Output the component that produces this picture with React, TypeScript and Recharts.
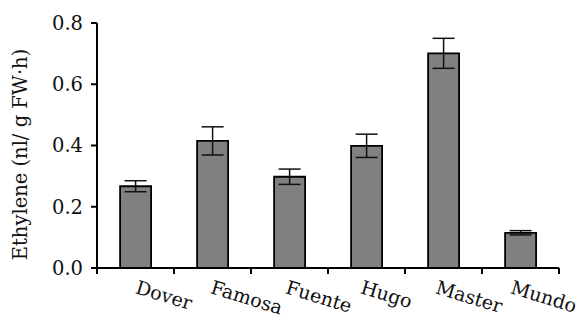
import { BarChart, Bar, XAxis, YAxis, ErrorBar, Label } from "recharts";

const cultivars = ["Dover", "Famosa", "Fuente", "Hugo", "Master", "Mundo"];
const ethylene = [0.267, 0.415, 0.298, 0.399, 0.701, 0.115];
const stdErr = [0.018, 0.046, 0.025, 0.038, 0.049, 0.007];
const yTicks = [0, 0.2, 0.4, 0.6, 0.8];

const data = cultivars.map((name, i) => ({
  name,
  value: ethylene[i],
  err: stdErr[i],
}));

const FONT = "'DejaVu Serif', serif";
const TICK_SIZE = 6;
const TICK_MARGIN = 4;

// category axis: ticks sit on band edges, labels slant down to the right
function SlantTick(props: any) {
  const { x, y, payload, index } = props;
  const half = payload?.offset ?? 38.5;
  const axisY = y - TICK_SIZE - TICK_MARGIN;
  const last = index === cultivars.length - 1;
  const tx = x - 1 - index * 2;
  const ty = y + 15;
  return (
    <g>
      <line x1={x - half} x2={x - half} y1={axisY} y2={axisY + TICK_SIZE} stroke="#000" strokeWidth={2} />
      {last && (
        <line x1={x + half} x2={x + half} y1={axisY} y2={axisY + TICK_SIZE} stroke="#000" strokeWidth={2} />
      )}
      <text
        x={tx}
        y={ty}
        textAnchor="start"
        fontFamily={FONT}
        fontSize={19}
        fill="#111"
        transform={`rotate(17, ${tx}, ${ty})`}
      >
        {payload.value}
      </text>
    </g>
  );
}

export default function App() {
  return (
    <div style={{ position: "absolute", left: 0, top: 0, background: "#fff" }}>
      <BarChart
        width={582}
        height={320}
        data={data}
        margin={{ top: 23, right: 23, bottom: 0, left: 0 }}
        barCategoryGap="30%"
      >
        <XAxis
          dataKey="name"
          interval={0}
          height={52}
          tickSize={TICK_SIZE}
          tickMargin={TICK_MARGIN}
          tickLine={false}
          axisLine={{ stroke: "#000", strokeWidth: 2 }}
          tick={<SlantTick />}
        />
        <YAxis
          width={97}
          domain={[0, 0.8]}
          ticks={yTicks}
          tickFormatter={(v: number) => v.toFixed(1)}
          tickSize={6}
          tickMargin={8}
          tickLine={{ stroke: "#000", strokeWidth: 2 }}
          axisLine={{ stroke: "#000", strokeWidth: 2 }}
          tick={{ fill: "#111", fontSize: 19.5, fontFamily: FONT }}
        >
          <Label
            content={({ viewBox }: any) => {
              const cx = viewBox.x + 20;
              const cy = viewBox.y + viewBox.height / 2 + 9;
              return (
                <text
                  x={cx}
                  y={cy}
                  textAnchor="middle"
                  dominantBaseline="central"
                  fontFamily={FONT}
                  fontSize={19.5}
                  fill="#111"
                  transform={`rotate(-90, ${cx}, ${cy})`}
                >
                  Ethylene (nl/ g FW·h)
                </text>
              );
            }}
          />
        </YAxis>
        <Bar
          dataKey="value"
          fill="#808080"
          stroke="#000"
          strokeWidth={1.8}
          isAnimationActive={false}
        >
          <ErrorBar
            dataKey="err"
            width={11}
            stroke="#111"
            strokeWidth={1.5}
            direction="y"
            isAnimationActive={false}
          />
        </Bar>
      </BarChart>
    </div>
  );
}
